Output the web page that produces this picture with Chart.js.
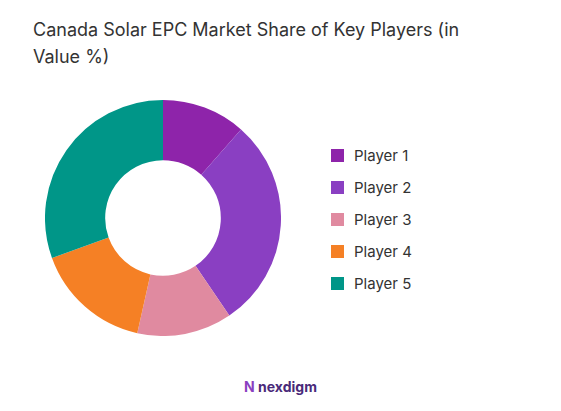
<!DOCTYPE html>
<html>
<head>
<script src="https://cdn.jsdelivr.net/npm/chart.js"></script>
<style>
  body { margin: 0; background: #fff; font-family: Inter, "Noto Sans", sans-serif; }
  #title { position: absolute; left: 33px; top: 16px; width: 470px; font-size: 18px; line-height: 27px; color: #333; }
  #wrap { position: absolute; left: 45px; top: 100px; width: 236px; height: 236px; }
  #legend { position: absolute; left: 331px; top: 139px; color: #333; font-size: 15px; }
  .item { height: 32px; display: flex; align-items: center; }
  .box { width: 13px; height: 13px; margin-right: 10px; }
  #logo { position: absolute; top: 378px; left: 0; width: 561px; text-align: center; font-size: 14px; font-weight: bold; color: #4a2a7a; }
</style>
</head>
<body>
<div id="title">Canada Solar EPC Market Share of Key Players (in Value %)</div>
<div id="wrap"><canvas id="shareChart"></canvas></div>
<div id="legend"></div>
<div id="logo"><span style="color:#8a3fc0">N</span> nexdigm</div>
<script>
// Market share per player (%)
const players = ['Player 1', 'Player 2', 'Player 3', 'Player 4', 'Player 5'];
const shares = [11.5, 29, 13, 16, 30.5];
const colors = ['#8e24aa', '#8a3fc2', '#e08aa0', '#f58025', '#009688'];

const ctx = document.getElementById('shareChart').getContext('2d');
const chart = new Chart(ctx, {
    type: 'doughnut',
    data: {
        labels: players,
        datasets: [{
            data: shares,
            backgroundColor: colors,
            borderWidth: 0
        }]
    },
    options: {
        responsive: true,
        maintainAspectRatio: false,
        animation: false,
        cutout: '49%',
        plugins: {
            legend: { display: false },
            tooltip: { enabled: false }
        }
    }
});

// legend built from the chart's own labels and colours
const legend = document.getElementById('legend');
chart.data.labels.forEach((label, i) => {
    const item = document.createElement('div');
    item.className = 'item';
    item.innerHTML = '<span class="box" style="background:' + chart.data.datasets[0].backgroundColor[i] + '"></span>' + label;
    legend.appendChild(item);
});
</script>
</body>
</html>
